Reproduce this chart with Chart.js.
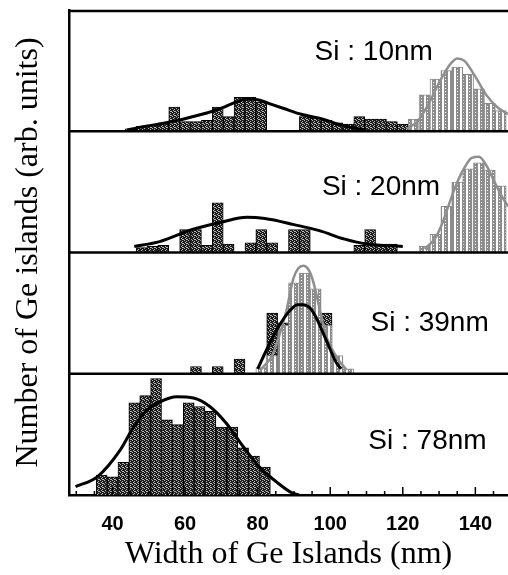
<!DOCTYPE html>
<html><head><meta charset="utf-8">
<script src="https://cdn.jsdelivr.net/npm/chart.js@4.4.1/dist/chart.umd.min.js"></script>
<style>html,body{margin:0;padding:0;background:#fff;}#wrap{width:508px;height:575px;}</style>
</head><body><div id="wrap"><canvas id="c" width="508" height="575"></canvas></div>
<script>
// ---- text ----
const xTicks = [40, 60, 80, 100, 120, 140];
const panelLabels = ['Si : 10nm', 'Si : 20nm', 'Si : 39nm', 'Si : 78nm'];
const xAxisTitle = 'Width of Ge Islands (nm)';
const yAxisTitle = 'Number of Ge islands (arb. units)';

// ---- panel 1 (Si : 10nm) ----
const p1DarkBins   = [45, 48, 51, 54, 57, 60, 63, 66, 69, 72, 75, 78, 81, 93, 96, 99, 102, 105, 108, 111, 114, 117, 120];
const p1DarkCounts = [0.2, 0.4, 0.5, 0.7, 2.0, 0.8, 0.8, 0.9, 2.0, 1.2, 2.8, 2.8, 2.4, 1.2, 1.1, 0.9, 0.7, 0.6, 1.2, 1.0, 1.0, 0.8, 0.6];
const p1DarkFitX   = [44, 47, 53, 58, 62, 66, 70, 74, 77, 80, 83, 87, 92, 98, 102, 106, 110];
const p1DarkFitY   = [0.1, 0.3, 0.6, 0.9, 1.2, 1.5, 1.9, 2.4, 2.65, 2.6, 2.3, 1.9, 1.4, 1.0, 0.6, 0.3, 0.1];
const p1LightBins  = [123, 126, 129, 132, 135, 138, 141, 144, 147];
const p1LightCounts= [1.0, 3.0, 4.3, 5.0, 5.3, 4.7, 3.5, 2.3, 1.7];
const p1LightFitX  = [121, 124, 127, 130, 133, 135, 137, 140, 143, 146, 149];
const p1LightFitY  = [0.2, 0.8, 2.2, 4.0, 5.5, 6.0, 5.8, 4.5, 3.0, 2.0, 1.4];

// ---- panel 2 (Si : 20nm) ----
const p2DarkBins   = [48, 51, 54, 60, 63, 66, 69, 72, 78, 81, 84, 90, 93, 108, 111, 114, 117];
const p2DarkCounts = [0.4, 0.5, 0.6, 1.9, 1.9, 0.6, 4.1, 0.7, 0.8, 1.9, 0.8, 1.9, 1.9, 0.6, 1.9, 0.7, 0.7];
const p2DarkFitX   = [46, 53, 62, 70, 77, 82, 90, 97, 104, 110, 120];
const p2DarkFitY   = [0.5, 0.9, 1.9, 2.5, 2.9, 2.8, 2.3, 1.8, 1.1, 0.7, 0.5];
const p2LightBins  = [126, 129, 132, 135, 138, 141, 144, 147];
const p2LightCounts= [0.5, 1.5, 3.8, 5.8, 6.9, 7.4, 6.8, 5.5];
const p2LightFitX  = [126, 129, 131, 133, 135, 137, 139, 141, 143, 145, 147, 149];
const p2LightFitY  = [0.3, 1.2, 2.5, 4.2, 5.8, 7.0, 7.8, 7.9, 7.2, 6.0, 4.8, 3.8];

// ---- panel 3 (Si : 39nm) ----
const p3DarkBins   = [63, 69, 75, 84, 87, 90, 93, 96, 99, 102];
const p3DarkCounts = [0.6, 0.6, 1.2, 5.0, 4.2, 5.6, 5.6, 4.6, 5.0, 1.0];
const p3DarkFitX   = [80, 82.5, 84.5, 86, 88, 89.5, 91, 92.5, 94.5, 96, 98, 100, 101.7, 103];
const p3DarkFitY   = [0.4, 2.0, 3.2, 4.0, 4.9, 5.4, 5.7, 5.7, 5.4, 4.7, 3.4, 2.0, 0.9, 0.4];
const p3LightBins  = [81, 84, 87, 90, 93, 96, 99, 102, 105];
const p3LightCounts= [0.5, 1.5, 4.0, 7.5, 8.3, 7.0, 4.0, 1.5, 0.4];
const p3LightFitX  = [80.7, 84, 86, 88, 89.8, 91.2, 92.6, 94, 94.9, 96, 97.1, 99, 101.7, 104.5];
const p3LightFitY  = [0.3, 1.5, 3.2, 5.3, 7.8, 8.7, 8.9, 8.6, 8.0, 6.8, 5.3, 3.0, 1.4, 0.3];

// ---- panel 4 (Si : 78nm) ----
const p4DarkBins   = [37, 40, 43, 46, 49, 52, 55, 58, 61, 64, 67, 70, 73, 76, 79, 82];
const p4DarkCounts = [1.65, 1.5, 2.7, 7.6, 8.2, 9.6, 6.2, 5.8, 7.6, 7.3, 6.9, 5.6, 5.6, 3.9, 3.2, 2.3];
const p4DarkFitX   = [29.8, 35.8, 42.1, 45.8, 49.5, 53.2, 57.7, 62.3, 66.8, 71.4, 76, 80.5, 85.1, 89.6, 91.4];
const p4DarkFitY   = [0.7, 1.5, 3.7, 5.6, 7.0, 7.7, 8.1, 8.0, 7.3, 5.9, 4.0, 2.3, 1.1, 0.15, 0];

const panels = [
  {dB: p1DarkBins, dC: p1DarkCounts, dFx: p1DarkFitX, dFy: p1DarkFitY, lB: p1LightBins, lC: p1LightCounts, lFx: p1LightFitX, lFy: p1LightFitY},
  {dB: p2DarkBins, dC: p2DarkCounts, dFx: p2DarkFitX, dFy: p2DarkFitY, lB: p2LightBins, lC: p2LightCounts, lFx: p2LightFitX, lFy: p2LightFitY},
  {dB: p3DarkBins, dC: p3DarkCounts, dFx: p3DarkFitX, dFy: p3DarkFitY, lB: p3LightBins, lC: p3LightCounts, lFx: p3LightFitX, lFy: p3LightFitY},
  {dB: p4DarkBins, dC: p4DarkCounts, dFx: p4DarkFitX, dFy: p4DarkFitY}
];

// ---- styling helpers ----
function makePattern(w, h, bg, fg, pts) {
  const c = document.createElement('canvas'); c.width = w; c.height = h;
  const g = c.getContext('2d'); g.fillStyle = bg; g.fillRect(0, 0, w, h);
  g.fillStyle = fg; pts.forEach(p => g.fillRect(p[0], p[1], 1, 1));
  return document.getElementById('c').getContext('2d').createPattern(c, 'repeat');
}
const darkPattern = makePattern(4, 4, '#1e1e1e', '#b5b5b5', [[0,0],[2,1],[1,2],[3,3],[2,3]]);
const lightPattern = makePattern(6, 3, '#ffffff', '#8c8c8c', [[0,0],[1,0],[2,0],[3,0],[0,1],[2,1],[3,1],[1,2],[2,2],[3,2],[0,2]]);

const X_MIN = 28, X_MAX = 149;
const pts = (xs, ys) => xs.map((x, i) => ({x: x, y: ys[i]}));

const datasets = [];
const scales = {};
scales.x = {
  type: 'linear', min: X_MIN, max: X_MAX, offset: false, position: 'bottom',
  grid: {display: false},
  border: {display: true, color: '#000', width: 2.5},
  ticks: {font: {family: 'Liberation Sans', size: 20, weight: 'bold'}, color: '#000', padding: 9, maxRotation: 0},
  afterBuildTicks: s => { s.ticks = xTicks.map(v => ({value: v})); },
  afterFit: s => { s.height = 80; },
  title: {display: true, text: xAxisTitle, font: {family: 'Liberation Serif', size: 32}, color: '#000', padding: {top: 0, bottom: 1}}
};

panels.forEach((p, i) => {
  const yId = 'p' + i;
  datasets.push({type: 'bar', data: pts(p.dB, p.dC), xAxisID: 'xd' + i, yAxisID: yId,
    backgroundColor: darkPattern, borderColor: '#000', borderWidth: 1, barPercentage: 1, categoryPercentage: 1, grouped: false, order: 3});
  scales['xd' + i] = {type: 'linear', min: X_MIN, max: X_MAX, display: false, offset: false};
  if (p.lB) {
    datasets.push({type: 'bar', data: pts(p.lB, p.lC), xAxisID: 'xl' + i, yAxisID: yId,
      backgroundColor: lightPattern, borderColor: '#8a8a8a', borderWidth: 1, barPercentage: 1, categoryPercentage: 1, grouped: false, order: 2});
    scales['xl' + i] = {type: 'linear', min: X_MIN, max: X_MAX, display: false, offset: false};
    datasets.push({type: 'line', data: pts(p.lFx, p.lFy), xAxisID: 'x', yAxisID: yId,
      borderColor: '#8f8f8f', borderWidth: 2.5, pointRadius: 0, fill: false, cubicInterpolationMode: 'monotone', order: 1});
  }
  datasets.push({type: 'line', data: pts(p.dFx, p.dFy), xAxisID: 'x', yAxisID: yId,
    borderColor: '#000', borderWidth: 3, pointRadius: 0, fill: false, cubicInterpolationMode: 'monotone', order: 0});
});

// stacked panel axes: declared bottom-first so the first panel ends up on top
[3, 2, 1, 0].forEach(i => {
  scales['p' + i] = {
    type: 'linear', position: 'left', stack: 'panels', stackWeight: 1, weight: 0,
    min: 0, max: 10, offset: false,
    ticks: {display: false}, grid: {display: false},
    border: {display: true, color: '#000', width: 2.5},
    afterFit: s => { s.width = 9; }
  };
});
scales.yt = {
  type: 'linear', position: 'left', weight: 10, min: 0, max: 1,
  ticks: {display: false}, grid: {display: false}, border: {display: false},
  title: {display: true, text: yAxisTitle, font: {family: 'Liberation Serif', size: 32}, color: '#000', padding: {top: 9, bottom: 0}},
  afterFit: s => { s.width = 60; }
};

const framePlugin = {
  id: 'frame',
  afterDatasetsDraw(chart) {
    const {ctx, chartArea} = chart;
    ctx.save();
    ctx.strokeStyle = '#000';
    ctx.lineWidth = 2.5;
    ctx.beginPath(); ctx.moveTo(chartArea.left, chartArea.top + 1); ctx.lineTo(chartArea.right, chartArea.top + 1); ctx.stroke();
    ['p0', 'p1', 'p2'].forEach(id => {
      const y = chart.scales[id].getPixelForValue(0);
      ctx.beginPath(); ctx.moveTo(chartArea.left, y); ctx.lineTo(chartArea.right, y); ctx.stroke();
    });
    // inward tick marks on the bottom axis
    const xs = chart.scales.x;
    const yb = chartArea.bottom;
    ctx.lineWidth = 1.5;
    for (let v = 30; v <= X_MAX; v += 5) {
      const px = xs.getPixelForValue(v);
      const len = xTicks.includes(v) ? 8 : 4;
      ctx.beginPath(); ctx.moveTo(px, yb); ctx.lineTo(px, yb - len); ctx.stroke();
    }
    // panel labels
    const labelAt = [[112, 6.5], [114, 5.4], [127.4, 4.2], [126.8, 4.4]];
    ctx.fillStyle = '#000';
    ctx.font = '28px "Liberation Sans"';
    ctx.textAlign = 'center';
    ctx.textBaseline = 'middle';
    panelLabels.forEach((t, i) => {
      ctx.fillText(t, xs.getPixelForValue(labelAt[i][0]), chart.scales['p' + i].getPixelForValue(labelAt[i][1]));
    });
    ctx.restore();
  }
};

new Chart(document.getElementById('c'), {
  type: 'bar',
  data: {datasets: datasets},
  options: {
    responsive: false, animation: false, devicePixelRatio: 1,
    layout: {padding: {top: 10, right: 0, left: 0, bottom: 0}},
    plugins: {legend: {display: false}, tooltip: {enabled: false}},
    scales: scales
  },
  plugins: [framePlugin]
});
</script></body></html>
